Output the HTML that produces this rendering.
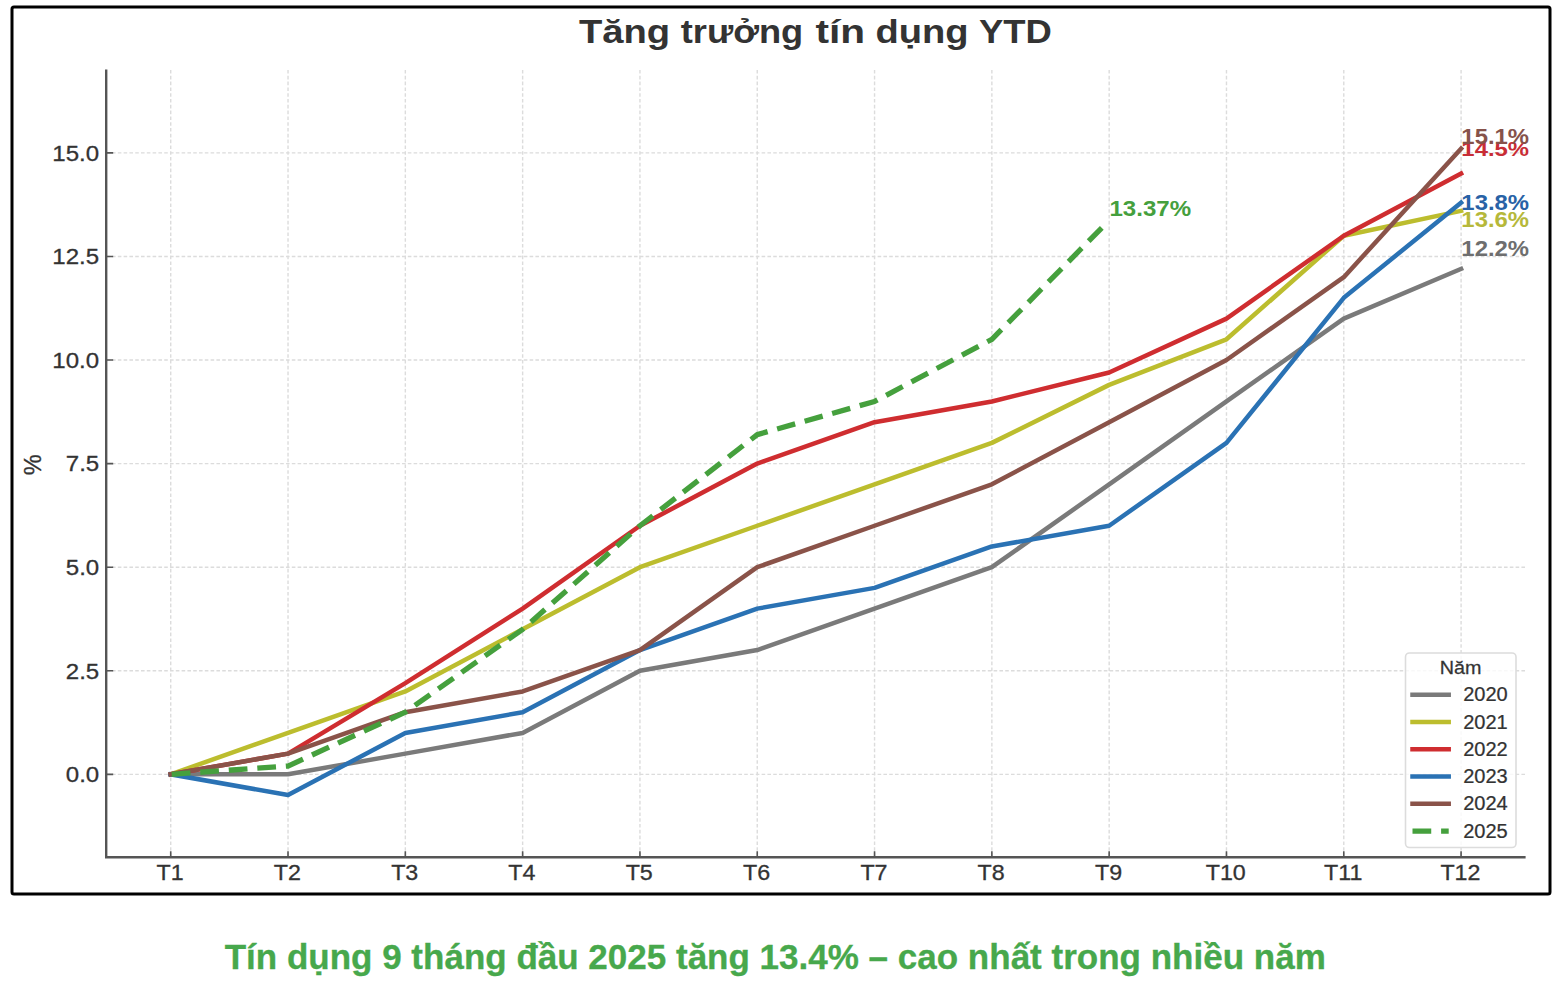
<!DOCTYPE html>
<html><head><meta charset="utf-8"><style>
html,body{margin:0;padding:0;background:#fff;width:1564px;height:1000px;overflow:hidden}
svg{display:block}
text{font-family:"Liberation Sans",sans-serif}
</style></head><body>
<svg width="1564" height="1000" viewBox="0 0 1564 1000">
<rect x="12" y="7" width="1538" height="887" rx="2" fill="none" stroke="#000" stroke-width="3"/>
<path d="M170.72,70.0V857.2M288.02,70.0V857.2M405.33,70.0V857.2M522.64,70.0V857.2M639.94,70.0V857.2M757.25,70.0V857.2M874.55,70.0V857.2M991.86,70.0V857.2M1109.16,70.0V857.2M1226.47,70.0V857.2M1343.78,70.0V857.2M1461.08,70.0V857.2M106.2,774.34H1525.6M106.2,670.76H1525.6M106.2,567.18H1525.6M106.2,463.60H1525.6M106.2,360.02H1525.6M106.2,256.44H1525.6M106.2,152.86H1525.6" stroke="#dcdcdc" stroke-width="1.4" stroke-dasharray="3.6 2.2" fill="none"/>
<path d="M106.2,69.5V857.2H1525.6" stroke="#555555" stroke-width="2.4" fill="none"/>
<path d="M170.72,857.2v-6M288.02,857.2v-6M405.33,857.2v-6M522.64,857.2v-6M639.94,857.2v-6M757.25,857.2v-6M874.55,857.2v-6M991.86,857.2v-6M1109.16,857.2v-6M1226.47,857.2v-6M1343.78,857.2v-6M1461.08,857.2v-6M106.2,774.34h7M106.2,670.76h7M106.2,567.18h7M106.2,463.60h7M106.2,360.02h7M106.2,256.44h7M106.2,152.86h7" stroke="#555555" stroke-width="1.6" fill="none"/>
<polyline points="170.72,774.34 288.02,774.34 405.33,753.62 522.64,732.91 639.94,670.76 757.25,650.04 874.55,608.61 991.86,567.18 1109.16,484.32 1226.47,401.45 1343.78,318.59 1461.08,268.87" fill="none" stroke="#7a7a7a" stroke-width="4.5" stroke-linejoin="round" stroke-linecap="square"/>
<polyline points="170.72,774.34 288.02,732.91 405.33,691.47 522.64,629.33 639.94,567.18 757.25,525.75 874.55,484.32 991.86,442.88 1109.16,384.88 1226.47,339.31 1343.78,235.73 1461.08,210.87" fill="none" stroke="#bcbd2e" stroke-width="4.5" stroke-linejoin="round" stroke-linecap="square"/>
<polyline points="170.72,774.34 288.02,753.62 405.33,683.19 522.64,608.61 639.94,525.75 757.25,463.60 874.55,422.17 991.86,401.45 1109.16,372.45 1226.47,318.59 1343.78,235.73 1461.08,173.58" fill="none" stroke="#cf2d30" stroke-width="4.5" stroke-linejoin="round" stroke-linecap="square"/>
<polyline points="170.72,774.34 288.02,795.05 405.33,732.91 522.64,712.19 639.94,650.04 757.25,608.61 874.55,587.89 991.86,546.46 1109.16,525.75 1226.47,442.88 1343.78,297.87 1461.08,202.58" fill="none" stroke="#2a72b4" stroke-width="4.5" stroke-linejoin="round" stroke-linecap="square"/>
<polyline points="170.72,774.34 288.02,753.62 405.33,712.19 522.64,691.47 639.94,650.04 757.25,567.18 874.55,525.75 991.86,484.32 1109.16,422.17 1226.47,360.02 1343.78,277.16 1461.08,148.72" fill="none" stroke="#8a5349" stroke-width="4.5" stroke-linejoin="round" stroke-linecap="square"/>
<polyline points="170.72,774.34 288.02,766.05 405.33,712.19 522.64,629.33 639.94,525.75 757.25,434.60 874.55,401.45 991.86,339.31 1108.04,221.54" fill="none" stroke="#45a03d" stroke-width="5.3" stroke-dasharray="18.73 9.87" stroke-dashoffset="-1" stroke-linejoin="round"/>
<rect x="1405.5" y="653" width="110.5" height="194.5" rx="4" fill="#fff" fill-opacity="0.8" stroke="#dcdcdc" stroke-width="1.6"/>
<path d="M1412.5,694.70H1448.7" stroke="#7a7a7a" stroke-width="4.5" stroke-linecap="square"/>
<path d="M1412.5,721.97H1448.7" stroke="#bcbd2e" stroke-width="4.5" stroke-linecap="square"/>
<path d="M1412.5,749.24H1448.7" stroke="#cf2d30" stroke-width="4.5" stroke-linecap="square"/>
<path d="M1412.5,776.51H1448.7" stroke="#2a72b4" stroke-width="4.5" stroke-linecap="square"/>
<path d="M1412.5,803.78H1448.7" stroke="#8a5349" stroke-width="4.5" stroke-linecap="square"/>
<path d="M1412.5,831.05H1448.7" stroke="#45a03d" stroke-width="5.3" stroke-dasharray="18.73 9.87"/>
<text transform="translate(578.92,42.70) scale(1.1671,1.0000)" font-size="32.71" font-weight="bold" fill="#333333">Tăng</text>
<text transform="translate(680.74,42.70) scale(1.1088,1.0000)" font-size="32.71" font-weight="bold" fill="#333333">trưởng</text>
<text transform="translate(815.39,42.70) scale(1.2413,1.0000)" font-size="32.71" font-weight="bold" fill="#333333">tín</text>
<text transform="translate(875.47,42.70) scale(1.1665,1.0000)" font-size="32.71" font-weight="bold" fill="#333333">dụng</text>
<text transform="translate(979.07,42.70) scale(1.1140,1.0000)" font-size="32.71" font-weight="bold" fill="#333333">YTD</text>
<text transform="translate(224.65,968.80) scale(1.0000,1.0250)" font-size="35.02" font-weight="bold" fill="#47a84c" stroke="#47a84c" stroke-width="0.3">Tín dụng 9 tháng đầu 2025 tăng 13.4% – cao nhất trong nhiều năm</text>
<text transform="translate(52.32,160.76) scale(1.0783,1.0000)" font-size="22.30" font-weight="normal" fill="#333333" stroke="#333333" stroke-width="0.3">15.0</text>
<text transform="translate(52.32,264.34) scale(1.0783,1.0000)" font-size="22.30" font-weight="normal" fill="#333333" stroke="#333333" stroke-width="0.3">12.5</text>
<text transform="translate(52.32,367.91) scale(1.0783,1.0000)" font-size="22.30" font-weight="normal" fill="#333333" stroke="#333333" stroke-width="0.3">10.0</text>
<text transform="translate(65.79,471.49) scale(1.0783,1.0000)" font-size="22.30" font-weight="normal" fill="#333333" stroke="#333333" stroke-width="0.3">7.5</text>
<text transform="translate(65.79,575.07) scale(1.0783,1.0000)" font-size="22.30" font-weight="normal" fill="#333333" stroke="#333333" stroke-width="0.3">5.0</text>
<text transform="translate(65.79,678.65) scale(1.0783,1.0000)" font-size="22.30" font-weight="normal" fill="#333333" stroke="#333333" stroke-width="0.3">2.5</text>
<text transform="translate(65.79,782.23) scale(1.0783,1.0000)" font-size="22.30" font-weight="normal" fill="#333333" stroke="#333333" stroke-width="0.3">0.0</text>
<text transform="translate(156.55,880.00) scale(1.0360,1.0000)" font-size="22.46" font-weight="normal" fill="#333333" stroke="#333333" stroke-width="0.3">T1</text>
<text transform="translate(273.86,880.00) scale(1.0360,1.0000)" font-size="22.46" font-weight="normal" fill="#333333" stroke="#333333" stroke-width="0.3">T2</text>
<text transform="translate(391.16,880.00) scale(1.0360,1.0000)" font-size="22.46" font-weight="normal" fill="#333333" stroke="#333333" stroke-width="0.3">T3</text>
<text transform="translate(508.24,880.00) scale(1.0360,1.0000)" font-size="22.46" font-weight="normal" fill="#333333" stroke="#333333" stroke-width="0.3">T4</text>
<text transform="translate(625.66,880.00) scale(1.0360,1.0000)" font-size="22.46" font-weight="normal" fill="#333333" stroke="#333333" stroke-width="0.3">T5</text>
<text transform="translate(743.08,880.00) scale(1.0360,1.0000)" font-size="22.46" font-weight="normal" fill="#333333" stroke="#333333" stroke-width="0.3">T6</text>
<text transform="translate(860.39,880.00) scale(1.0360,1.0000)" font-size="22.46" font-weight="normal" fill="#333333" stroke="#333333" stroke-width="0.3">T7</text>
<text transform="translate(977.58,880.00) scale(1.0360,1.0000)" font-size="22.46" font-weight="normal" fill="#333333" stroke="#333333" stroke-width="0.3">T8</text>
<text transform="translate(1095.00,880.00) scale(1.0360,1.0000)" font-size="22.46" font-weight="normal" fill="#333333" stroke="#333333" stroke-width="0.3">T9</text>
<text transform="translate(1205.67,880.00) scale(1.0360,1.0000)" font-size="22.46" font-weight="normal" fill="#333333" stroke="#333333" stroke-width="0.3">T10</text>
<text transform="translate(1324.03,880.00) scale(1.0360,1.0000)" font-size="22.46" font-weight="normal" fill="#333333" stroke="#333333" stroke-width="0.3">T11</text>
<text transform="translate(1440.40,880.00) scale(1.0360,1.0000)" font-size="22.46" font-weight="normal" fill="#333333" stroke="#333333" stroke-width="0.3">T12</text>
<text transform="translate(41.01,475.20) rotate(-90) scale(0.9959,1.0000)" font-size="23.59" font-weight="normal" fill="#333333" stroke="#333333" stroke-width="0.3">%</text>
<text transform="translate(1439.82,674.30) scale(1.0841,1.0000)" font-size="18.26" font-weight="normal" fill="#333333" stroke="#333333" stroke-width="0.25">Năm</text>
<text transform="translate(1463.20,701.39) scale(0.9682,1.0000)" font-size="20.70" font-weight="normal" fill="#333333" stroke="#333333" stroke-width="0.25">2020</text>
<text transform="translate(1463.20,728.66) scale(0.9682,1.0000)" font-size="20.70" font-weight="normal" fill="#333333" stroke="#333333" stroke-width="0.25">2021</text>
<text transform="translate(1463.20,755.93) scale(0.9682,1.0000)" font-size="20.70" font-weight="normal" fill="#333333" stroke="#333333" stroke-width="0.25">2022</text>
<text transform="translate(1463.20,783.20) scale(0.9682,1.0000)" font-size="20.70" font-weight="normal" fill="#333333" stroke="#333333" stroke-width="0.25">2023</text>
<text transform="translate(1463.20,810.47) scale(0.9682,1.0000)" font-size="20.70" font-weight="normal" fill="#333333" stroke="#333333" stroke-width="0.25">2024</text>
<text transform="translate(1463.20,837.74) scale(0.9682,1.0000)" font-size="20.70" font-weight="normal" fill="#333333" stroke="#333333" stroke-width="0.25">2025</text>
<text transform="translate(1461.37,255.99) scale(1.1233,1.0000)" font-size="21.27" font-weight="bold" fill="#6e6e6e">12.2%</text>
<text transform="translate(1461.37,226.89) scale(1.1233,1.0000)" font-size="21.27" font-weight="bold" fill="#b6b83a">13.6%</text>
<text transform="translate(1461.37,156.39) scale(1.1308,1.0000)" font-size="21.13" font-weight="bold" fill="#c82d35">14.5%</text>
<text transform="translate(1461.37,209.99) scale(1.1160,1.0000)" font-size="21.41" font-weight="bold" fill="#2862a6">13.8%</text>
<text transform="translate(1461.37,143.79) scale(1.1271,1.0000)" font-size="21.20" font-weight="bold" fill="#86524a">15.1%</text>
<text transform="translate(1109.46,216.08) scale(1.1174,1.0000)" font-size="21.55" font-weight="bold" fill="#45a03d">13.37%</text>
</svg>
</body></html>
